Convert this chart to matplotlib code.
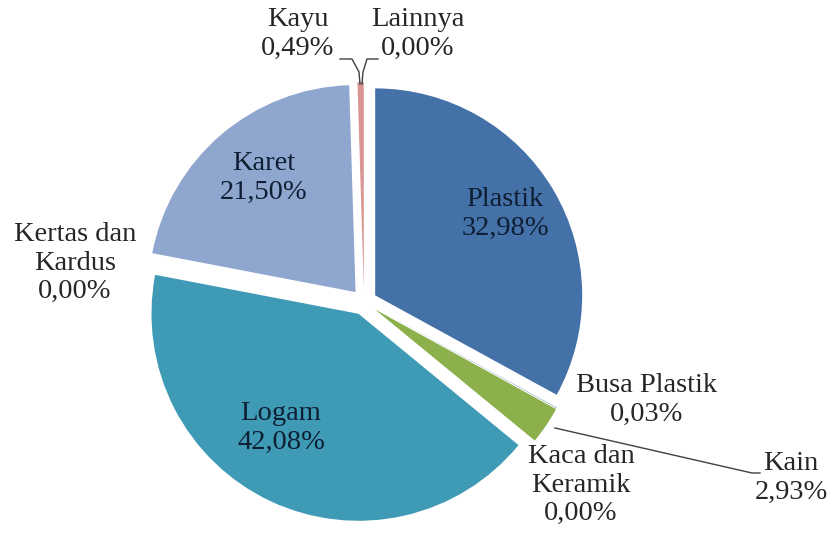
import matplotlib
matplotlib.use("Agg")
import matplotlib.pyplot as plt

categories = ["Plastik", "Busa Plastik", "Kain", "Kaca dan\nKeramik", "Logam",
              "Kertas dan\nKardus", "Karet", "Kayu", "Lainnya"]
values = [32.98, 0.03, 2.93, 0.00, 42.08, 0.00, 21.50, 0.49, 0.00]
colors = ["#4571A9", "#4571A9", "#8BB04C", "#8BB04C", "#3F9AB6",
          "#8FA6CF", "#8FA6CF", "#D99594", "#D99594"]

W, H = 836, 549
fig = plt.figure(figsize=(W / 100, H / 100), dpi=100)
ax = fig.add_axes([0, 0, 1, 1])

def Y(y):
    return H - y

cx, cy, R = 364, 302, 207
ax.pie(values, colors=colors, startangle=90, counterclock=False,
       explode=[13] * len(values), radius=R, center=(cx, Y(cy)),
       wedgeprops=dict(linewidth=0), normalize=True)

ax.set_xlim(0, W)
ax.set_ylim(0, H)
ax.set_aspect("auto")
ax.axis("off")

def fmt(v):
    return f"{v:.2f}".replace(".", ",") + "%"

font = dict(family=["Liberation Serif", "DejaVu Serif"], fontsize=20.5)
inside_color = "#0E1E33"
outside_color = "#262626"

# label positions (text centres, image pixel coords)
pos = {
    "Plastik": (505, 214, inside_color),
    "Busa Plastik": (647, 400, outside_color),
    "Kain": (791, 478, outside_color),
    "Kaca dan\nKeramik": (581, 485, outside_color),
    "Logam": (281, 428, inside_color),
    "Kertas dan\nKardus": (75, 263, outside_color),
    "Karet": (264, 178, inside_color),
    "Kayu": (298, 34, outside_color),
    "Lainnya": (418, 34, outside_color),
}
for cat, v in zip(categories, values):
    x, y, c = pos[cat]
    ax.text(x, Y(y), f"{cat}\n{fmt(v)}", ha="center", va="center",
            color=c, linespacing=1.2, **font)

# leader lines
lc = "#404040"
ax.plot([340, 352, 359, 360], [Y(59), Y(59), Y(72), Y(84)], color=lc, lw=1)
ax.plot([378, 367, 363, 362], [Y(59), Y(59), Y(72), Y(84)], color=lc, lw=1)
ax.plot([555, 752, 760], [Y(428), Y(473), Y(473)], color=lc, lw=1)

fig.savefig("out.png", dpi=100)
